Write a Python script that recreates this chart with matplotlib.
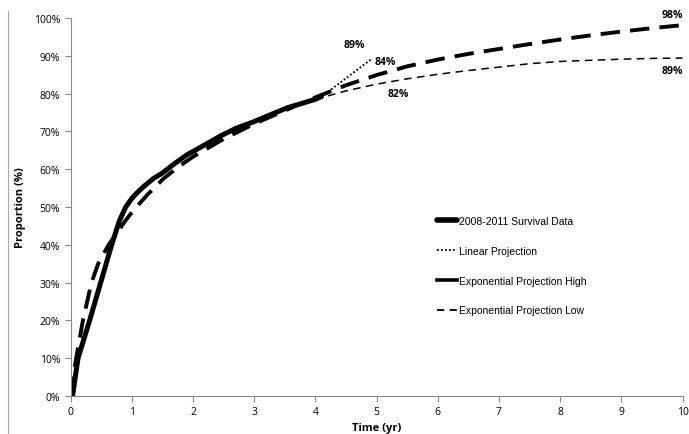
import matplotlib.pyplot as plt
from matplotlib.lines import Line2D
from matplotlib.ticker import PercentFormatter

plt.rcParams['font.family'] = ['Open Sans', 'DejaVu Sans']

# 2008-2011 survival data (time in years, cumulative proportion in %)
surv_t = [0.03, 0.12, 0.31, 0.49, 0.67, 0.8, 0.9, 1.0, 1.1, 1.2,
          1.35, 1.5, 1.7, 1.9, 2.2, 2.45, 2.7, 3.0, 3.25, 3.55, 3.8, 4.0, 4.1]
surv_v = [0, 10, 20, 30, 40, 46.5, 50, 52.3, 54, 55.5,
          57.5, 59, 61.5, 63.8, 66.5, 68.8, 70.8, 72.6, 74.3, 76.3, 77.5, 78.5, 79.2]

# linear projection
lin_t = [4.1, 4.93]
lin_v = [79.2, 89.3]

# exponential projection high
high_t = [0, 0.04, 0.09, 0.2, 0.34, 0.45, 0.62, 0.75, 0.9, 1.02, 1.24, 1.51, 1.75, 2.0,
          2.5, 3.0, 3.5, 4.0, 4.5, 5.0, 5.5, 6.0, 6.5, 7.0, 7.5, 8.0, 8.5, 9.0, 9.5, 10.0]
high_v = [0, 5, 10, 20, 30, 35, 40, 43, 46.5, 49, 53, 57.4, 60.5, 63.3,
          68, 72, 75.5, 79, 82.2, 84.9, 87.2, 89, 90.5, 91.8, 93.1, 94.3, 95.4, 96.4, 97.3, 98.1]

# exponential projection low
low_t = [4.0, 4.5, 5.0, 5.5, 6.0, 6.5, 7.0, 7.5, 8.0, 8.5, 9.0, 9.5, 10.0]
low_v = [78.5, 80.7, 82.5, 83.9, 85.1, 86.1, 87.0, 87.9, 88.5, 88.8, 89.1, 89.3, 89.4]

# value labels
lab_text = ['89%', '84%', '82%', '98%', '89%']
lab_x = [4.64, 5.14, 5.35, 9.84, 9.84]
lab_y = [92.9, 88.5, 80.1, 101.0, 86.1]

fig = plt.figure(figsize=(6.89, 4.35), dpi=100)
ax = fig.add_axes([0.1026, 0.0874, 0.888, 0.8690])

ax.plot(surv_t, surv_v, color='black', lw=3.6, solid_capstyle='round', solid_joinstyle='round')
ax.plot(lin_t, lin_v, color='black', lw=1.3, linestyle=(0, (1, 1.2)))
ax.plot(high_t, high_v, color='black', lw=2.8, linestyle=(0, (5, 2.6)))
ax.plot(low_t, low_v, color='black', lw=1.1, linestyle=(0, (5, 3.5)))

for t, x, y in zip(lab_text, lab_x, lab_y):
    ax.text(x, y, t, ha='center', va='center', fontsize=7.5, fontweight='bold', clip_on=False)

ax.set_xlim(0, 10)
ax.set_ylim(0, 100)
ax.set_xticks(range(0, 11))
ax.set_yticks(range(0, 101, 10))
ax.yaxis.set_major_formatter(PercentFormatter(decimals=0))
ax.tick_params(labelsize=7.5, colors='#888888', labelcolor='black', length=4, width=0.8)
for s in ['top', 'right']:
    ax.spines[s].set_visible(False)
for s in ['left', 'bottom']:
    ax.spines[s].set_color('#888888')
    ax.spines[s].set_linewidth(0.8)

ax.set_xlabel('Time (yr)', fontsize=8, fontweight='bold', labelpad=3)
ax.set_ylabel('Proportion (%)', fontsize=8, fontweight='bold', labelpad=6)

handles = [
    Line2D([], [], color='black', lw=4, solid_capstyle='round'),
    Line2D([], [], color='black', lw=1.3, linestyle=(0, (1, 1.2))),
    Line2D([], [], color='black', lw=2.6),
    Line2D([], [], color='black', lw=1.3, linestyle=(0, (4, 3))),
]
labels = ['2008-2011 Survival Data', 'Linear Projection',
          'Exponential Projection High', 'Exponential Projection Low']
fig.legend(handles, labels, loc='upper left', bbox_to_anchor=(437 / 689, 1 - 217 / 435),
           frameon=False, borderpad=0, borderaxespad=0, handlelength=1.9, handletextpad=0.2,
           labelspacing=1.9, prop={'family': 'Liberation Sans', 'size': 7.5})

fig.add_artist(Line2D([8 / 689, 8 / 689], [0, 1 - 12 / 435], color='#aaaaaa', lw=0.8))

fig.savefig('out.png', dpi=100)
